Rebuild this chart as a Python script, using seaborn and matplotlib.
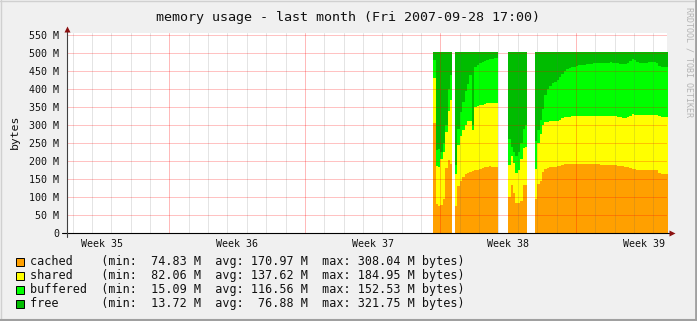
import numpy as np
import pandas as pd
import matplotlib
matplotlib.use("Agg")
import matplotlib.pyplot as plt
import matplotlib.transforms as mtransforms
from matplotlib.patches import Rectangle
from matplotlib.lines import Line2D
import seaborn as sns

# ---------------- data ----------------
# time axis: days since Mon 2007-08-27 00:00 (start of Week 35)
view_start, view_end = 1.7083, 32.7083          # Aug 28 17:00 .. Sep 28 17:00
start_day = 20.625                               # first sample (Sep 16 15:00)
step_day = 0.125                                 # 3-hour consolidation step
nan = np.nan

series_names = ["cached", "shared", "buffered", "free"]

cached = [305, 80, 76, 78, 95, 180, 203, 192,
          nan,
          75, 130, 145, 155, 163, 167, 170, 172, 174, 176, 179, 181, 182, 184, 185, 184, 184, 184,
          nan, nan, nan, nan,
          101, 133, 110, 82, 82, 90, 133, 133,
          nan, nan, nan,
          95, 135, 145, 170, 178, 181, 182, 183, 184, 185, 187, 190, 191, 192, 192, 192, 192, 193,
          193, 193, 193, 193, 192, 192, 192, 191, 191, 190, 190, 190, 190, 189, 189, 188, 187, 186,
          185, 184, 183, 180, 178, 177, 176, 175, 175, 175, 175, 175, 175, 175, 174, 168, 165, 165, 165]

shared = [125, 105, 107, 127, 131, 100, 137, 178,
          nan,
          90, 115, 125, 130, 137, 143, 142, 113, 176, 177, 176, 175, 176, 176, 177, 178, 178, 176,
          nan, nan, nan, nan,
          89, 82, 85, 86, 93, 115, 102, 107,
          nan, nan, nan,
          82, 115, 130, 130, 130, 128, 128, 127, 126, 126, 126, 130, 130, 130, 131, 132, 133, 132,
          132, 132, 133, 133, 134, 134, 134, 135, 135, 136, 136, 136, 136, 136, 136, 136, 136, 135,
          135, 136, 138, 146, 152, 152, 152, 154, 154, 154, 154, 154, 154, 154, 154, 157, 157, 157, 157]

buffered = [50, 45, 50, 20, 24, 20, 60, 70,
            nan,
            25, 45, 65, 80, 95, 105, 128, 15, 110, 115, 117, 119, 119, 120, 120, 122, 123, 125,
            nan, nan, nan, nan,
            70, 25, 30, 47, 50, 45, 55, 60,
            nan, nan, nan,
            78, 35, 40, 45, 74, 91, 98, 106, 110, 115, 119, 122, 129, 133, 134, 136, 137, 139,
            141, 142, 142, 143, 144, 144, 145, 145, 146, 146, 146, 147, 147, 149, 148, 148, 148, 149,
            149, 150, 152, 152, 152, 151, 146, 144, 144, 144, 144, 145, 145, 145, 144, 140, 140, 140, 140]

free = [24, 274, 271, 279, 254, 204, 104, 64,
        nan,
        314, 214, 169, 139, 109, 89, 64, 204, 44, 36, 32, 29, 27, 24, 22, 20, 19, 19,
        nan, nan, nan, nan,
        244, 264, 279, 289, 279, 254, 214, 204,
        nan, nan, nan,
        249, 219, 189, 159, 122, 104, 96, 88, 84, 78, 72, 62, 54, 49, 47, 44, 42, 40,
        38, 37, 36, 35, 34, 34, 33, 33, 32, 32, 32, 31, 31, 30, 31, 32, 33, 34,
        35, 34, 31, 26, 22, 24, 30, 31, 31, 31, 31, 30, 30, 30, 32, 39, 42, 42, 42]

legend_min = [74.83, 82.06, 15.09, 13.72]
legend_avg = [170.97, 137.62, 116.56, 76.88]
legend_max = [308.04, 184.95, 152.53, 321.75]

y_ticks = [0, 50, 100, 150, 200, 250, 300, 350, 400, 450, 500, 550]
week_numbers = [35, 36, 37, 38, 39]
week_starts = [0, 7, 14, 21, 28]
title = "memory usage - last month (Fri 2007-09-28 17:00)"

colors = {"cached": "#FFA000", "shared": "#FFFF00", "buffered": "#00FF00", "free": "#00BC00"}

# ---------------- figure ----------------
sns.set_style("white")
plt.rcParams["font.family"] = ["DejaVu Sans Mono"]
txt_color = "#111111"

n = len(cached)
day = start_day + step_day * (np.arange(n) + 0.5)
df = pd.DataFrame({
    "day": np.tile(day, 4),
    "series": np.repeat(series_names, n),
    "mem": np.concatenate([cached, shared, buffered, free]),
}).dropna()

W, H = 697, 321
fig = plt.figure(figsize=(W / 100, H / 100), dpi=100, facecolor="#f0f0f0")
ax = fig.add_axes([67 / W, 88 / H, 600 / W, 200 / H])
ax.set_facecolor("white")

sns.histplot(data=df, x="day", weights="mem", hue="series",
             hue_order=series_names[::-1], palette=colors,
             multiple="stack", binwidth=step_day,
             binrange=(start_day, start_day + step_day * n),
             element="step", fill=True,
             alpha=1, linewidth=0, legend=False, ax=ax)

ax.set_xlabel("")
ax.set_ylabel("")
for s in ax.spines.values():
    s.set_visible(False)

# grid (drawn on top of the data, like rrdtool)
ax.set_axisbelow(False)
ax.set_xticks(week_starts)
ax.set_xticks(np.arange(int(np.ceil(view_start)), int(view_end) + 1), minor=True)
ax.set_xticklabels([])
ax.set_yticks(y_ticks)
ax.set_yticklabels(["0" if v == 0 else f"{v} M" for v in y_ticks])
ax.set_xlim(view_start, view_end)
ax.set_ylim(0, 555.6)

ax.grid(True, which="major", axis="x", color="red", alpha=0.27, linewidth=0.72)
ax.grid(True, which="minor", axis="x", color="#606060", alpha=0.17, linewidth=0.72)
ax.grid(True, which="major", axis="y", color="red", alpha=0.24, linewidth=0.72)
ax.tick_params(axis="y", which="major", length=2, width=0.72, color="#f8c4c4",
               pad=3.5, labelsize=7.2, labelcolor=txt_color)
ax.tick_params(axis="x", which="major", length=3, width=0.72, color="#f8b8b8")
ax.tick_params(axis="x", which="minor", length=3, width=0.72, color="#e0e0e0")

# axis lines and arrows
ax.plot([-5 / 600, 603 / 600], [0, 0], transform=ax.transAxes, color="black",
        lw=0.8, clip_on=False, zorder=6)
ax.plot([0, 0], [-4 / 200, 1.015], transform=ax.transAxes, color="#404040",
        lw=0.8, clip_on=False, zorder=6)
ax.plot([1.0075], [0], transform=ax.transAxes, marker=">", ms=4, color="#8b1010",
        clip_on=False, zorder=7, mec="none")
ax.plot([0], [1.022], transform=ax.transAxes, marker="^", ms=4, color="#8b1010",
        clip_on=False, zorder=7, mec="none")

# week labels centred in each week
blend = mtransforms.blended_transform_factory(ax.transData, ax.transAxes)
for wk, ws in zip(week_numbers, week_starts):
    ax.text(ws + 3.5, -0.055, f"Week {wk}", transform=blend, ha="center",
            va="center", fontsize=7.2, color=txt_color)

# title, unit label, watermark
fig.text(0.5, 1 - 17 / H, title, ha="center", va="center", fontsize=9.6, color=txt_color)
fig.text(14.5 / W, 1 - 131.5 / H, "bytes", rotation=90, ha="center", va="center",
         fontsize=8.2, color=txt_color)
fig.text(689 / W, 1 - 62 / H, "RRDTOOL / TOBI OETIKER", rotation=270, ha="center",
         va="center", fontsize=6, color="#b4b4b4")

# legend
for k, name in enumerate(series_names):
    yc = 261.7 + 14 * k
    fig.add_artist(Rectangle((16 / W, 1 - (yc + 4) / H), 8 / W, 8 / H,
                             transform=fig.transFigure, facecolor=colors[name],
                             edgecolor="black", lw=0.7))
    line = (f"{name:<10}(min: {legend_min[k]:6.2f} M  avg: {legend_avg[k]:6.2f} M  "
            f"max: {legend_max[k]:6.2f} M bytes)")
    fig.text(30 / W, 1 - yc / H, line, ha="left", va="center", fontsize=8.5, color=txt_color)

# 3d-ish frame
fig.add_artist(Line2D([0, 1], [1 - 0.5 / H] * 2, transform=fig.transFigure, color="#d0d0d0", lw=1))
fig.add_artist(Line2D([0.5 / W] * 2, [0, 1], transform=fig.transFigure, color="#d0d0d0", lw=1))
fig.add_artist(Line2D([1 - 1.5 / W] * 2, [0, 1], transform=fig.transFigure, color="#a0a0a0", lw=2))
fig.add_artist(Line2D([0, 1], [1 / H] * 2, transform=fig.transFigure, color="#a0a0a0", lw=1.5))

fig.savefig("out.png", dpi=100, facecolor=fig.get_facecolor())
